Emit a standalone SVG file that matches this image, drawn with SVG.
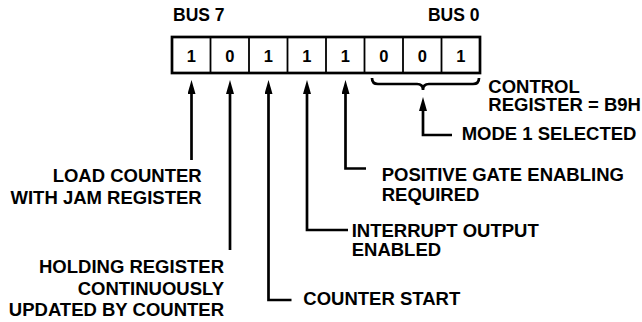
<svg xmlns="http://www.w3.org/2000/svg" width="642" height="322" viewBox="0 0 642 322">
<style>
text{font-family:"Liberation Sans",Arial,Helvetica,sans-serif;font-weight:bold;fill:#000}
.lbl{font-size:18.5px}
.bus{font-size:17.5px}
.dig{font-size:16.5px;text-anchor:middle}
.end{text-anchor:end}
.box{fill:#fff;stroke:#000;stroke-width:2.7}
.div{stroke:#000;stroke-width:1.8}
.con{fill:none;stroke:#000;stroke-width:2.7;stroke-linejoin:miter}
</style>
<defs>
<marker id="ah" markerUnits="userSpaceOnUse" viewBox="0 0 14 8" refX="1" refY="4" markerWidth="14" markerHeight="8" orient="auto">
<path d="M0,0 L14,4 L0,8 z" fill="#000"/>
</marker>
</defs>
<rect width="642" height="322" fill="#fff"/>
<g id="bus7"><text class="bus" x="173" y="20.7">BUS 7</text></g>
<g id="bus0"><text class="bus end" x="479.5" y="20.7">BUS 0</text></g>
<g id="register">
<rect class="box" x="172" y="37" width="308" height="36"/>
<path class="div" d="M210.5,37V73M249,37V73M287.5,37V73M326,37V73M364.5,37V73M403,37V73M441.5,37V73"/>
<text class="dig" x="191.25" y="61.5">1</text>
<text class="dig" x="229.75" y="61.5">0</text>
<text class="dig" x="268.25" y="61.5">1</text>
<text class="dig" x="306.75" y="61.5">1</text>
<text class="dig" x="345.25" y="61.5">1</text>
<text class="dig" x="383.75" y="61.5">0</text>
<text class="dig" x="422.25" y="61.5">0</text>
<text class="dig" x="460.75" y="61.5">1</text>
</g>
<g id="control-register">
<text class="lbl" x="488.3" y="92.7">CONTROL</text>
<text class="lbl" x="488.3" y="111">REGISTER = B9H</text>
</g>
<g id="mode1"><text class="lbl" x="461.7" y="140">MODE 1 SELECTED</text></g>
<g id="load-counter">
<text class="lbl end" x="201.7" y="181.7">LOAD COUNTER</text>
<text class="lbl end" x="201.7" y="204">WITH JAM REGISTER</text>
</g>
<g id="holding-register">
<text class="lbl end" x="224" y="273.3">HOLDING REGISTER</text>
<text class="lbl end" x="224" y="294.5">CONTINUOUSLY</text>
<text class="lbl end" x="224" y="315.7">UPDATED BY COUNTER</text>
</g>
<g id="counter-start"><text class="lbl" x="303.3" y="305">COUNTER START</text></g>
<g id="interrupt">
<text class="lbl" x="351.7" y="236.7">INTERRUPT OUTPUT</text>
<text class="lbl" x="351.7" y="256">ENABLED</text>
</g>
<g id="positive-gate">
<text class="lbl" x="381.7" y="180.7">POSITIVE GATE ENABLING</text>
<text class="lbl" x="381.7" y="200.7">REQUIRED</text>
</g>
<g id="connectors">
<path class="con" d="M372,78 Q372,84 378,84 L417,84 Q423,84 423,90 Q423,84 429,84 L473,84 Q479,84 479,78"/>
<path class="con" d="M191.5,160 V93" marker-end="url(#ah)"/>
<path class="con" d="M230,250 V93" marker-end="url(#ah)"/>
<path class="con" d="M291.5,300 H268.5 V93" marker-end="url(#ah)"/>
<path class="con" d="M348,230 H307 V93" marker-end="url(#ah)"/>
<path class="con" d="M366,168.5 H345.5 V93" marker-end="url(#ah)"/>
<path class="con" d="M452,135 H423 V110" marker-end="url(#ah)"/>
</g>
</svg>
